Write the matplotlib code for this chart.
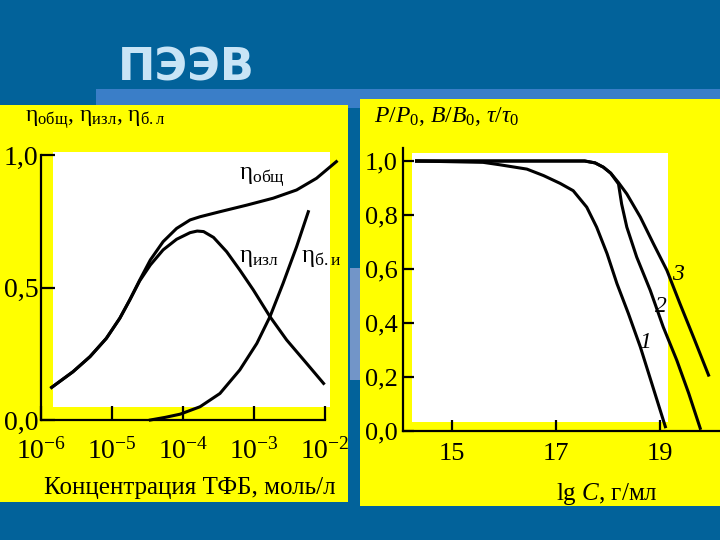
import matplotlib
matplotlib.use('Agg')
import numpy as np
import matplotlib.pyplot as plt
from matplotlib.patches import Rectangle

plt.rcParams['font.family'] = ['Liberation Serif', 'DejaVu Serif']
plt.rcParams['mathtext.fontset'] = 'custom'
plt.rcParams['mathtext.rm'] = 'Liberation Serif'
plt.rcParams['mathtext.it'] = 'Liberation Serif:italic'
plt.rcParams['mathtext.bf'] = 'Liberation Serif:bold'

# left chart: efficiencies vs TPB concentration (lg of mol/l)
lgc_total = [-5.85, -5.55, -5.31, -5.08, -4.89, -4.75, -4.61, -4.46, -4.28, -4.09,
             -3.90, -3.76, -3.48, -3.10, -2.73, -2.40, -2.12, -1.84]
eta_total = [0.123, 0.182, 0.239, 0.308, 0.384, 0.453, 0.528, 0.604, 0.673, 0.723,
             0.755, 0.767, 0.786, 0.811, 0.837, 0.868, 0.912, 0.975]
lgc_rad = [-5.85, -5.55, -5.31, -5.08, -4.89, -4.75, -4.61, -4.46, -4.28, -4.09,
           -3.90, -3.80, -3.71, -3.57, -3.385, -3.20, -3.01, -2.775, -2.54, -2.26, -2.02]
eta_rad = [0.123, 0.182, 0.239, 0.308, 0.384, 0.453, 0.525, 0.585, 0.642, 0.682,
           0.707, 0.713, 0.711, 0.689, 0.635, 0.566, 0.491, 0.390, 0.302, 0.214, 0.138]
lgc_nonrad = [-4.46, -4.25, -4.04, -3.76, -3.48, -3.20, -2.96, -2.775, -2.59, -2.40, -2.235]
eta_nonrad = [0.0, 0.01, 0.022, 0.05, 0.10, 0.189, 0.289, 0.39, 0.516, 0.654, 0.786]
left_xticks = [1e-6, 1e-5, 1e-4, 1e-3, 1e-2]
left_xlabels = ['$10^{-6}$', '$10^{-5}$', '$10^{-4}$', '$10^{-3}$', '$10^{-2}$']
left_yticks = [0.0, 0.5, 1.0]
left_ylabels = ['0,0', '0,5', '1,0']

# right chart: relative values vs lg C
lgc_1 = [14.32, 15.6, 15.92, 16.44, 16.76, 17.08, 17.33, 17.59, 17.78, 17.98,
         18.17, 18.39, 18.62, 18.84, 19.10]
val_1 = [1.0, 0.995, 0.986, 0.97, 0.946, 0.917, 0.89, 0.829, 0.755, 0.657,
         0.546, 0.435, 0.311, 0.176, 0.016]
lgc_2 = [14.32, 17.55, 17.75, 17.91, 18.05, 18.2, 18.26, 18.36, 18.55, 18.81,
         19.06, 19.32, 19.55, 19.77]
val_2 = [1.0, 1.0, 0.993, 0.977, 0.955, 0.915, 0.841, 0.755, 0.644, 0.521,
         0.385, 0.262, 0.139, 0.01]
lgc_3 = [14.32, 17.55, 17.75, 17.91, 18.05, 18.2, 18.36, 18.62, 18.87, 19.13,
         19.38, 19.64, 19.93]
val_3 = [1.0, 1.0, 0.993, 0.977, 0.955, 0.92, 0.878, 0.792, 0.694, 0.595,
         0.472, 0.348, 0.207]
right_xticks = [15, 17, 19]
right_yticks = [0.0, 0.2, 0.4, 0.6, 0.8, 1.0]
right_ylabels = ['0,0', '0,2', '0,4', '0,6', '0,8', '1,0']

W, H = 720, 540
dark_blue = '#02629a'
light_blue = '#3a7ec8'
yellow = '#ffff00'

fig = plt.figure(figsize=(7.2, 5.4), dpi=100, facecolor=dark_blue)


def box(x0, y0, x1, y1, color, z=-2):
    # pixel coordinates, y measured from the top
    fig.add_artist(Rectangle((x0 / W, 1 - y1 / H), (x1 - x0) / W, (y1 - y0) / H,
                             transform=fig.transFigure, color=color, lw=0, zorder=z))


def axes_at(x0, y0, x1, y1):
    return fig.add_axes([x0 / W, 1 - y1 / H, (x1 - x0) / W, (y1 - y0) / H], facecolor='none')


# background blocks
box(96, 89, 720, 100, light_blue, -3)
box(96, 100, 360, 108, light_blue, -3)
box(350, 268, 360, 380, '#7295c8', -3)
box(0, 105, 348, 502, yellow)
box(360, 99, 720, 506, yellow)
box(53, 152, 330, 407, 'white', -1)
box(412, 153, 668, 422, 'white', -1)

fig.text(186 / W, 1 - 68 / H, 'ПЭЭВ', family='DejaVu Sans', weight='bold',
         fontsize=32, color='#c8e4f6', ha='center', va='center')

lw = 2.2

# ---- left chart
ax1 = axes_at(41, 155, 325, 420)
ax1.set_xscale('log')
ax1.set_xlim(1e-6, 1e-2)
ax1.set_ylim(0, 1)
ax1.plot(10 ** np.array(lgc_total), eta_total, color='black', lw=lw, clip_on=False)
ax1.plot(10 ** np.array(lgc_rad), eta_rad, color='black', lw=lw, clip_on=False)
ax1.plot(10 ** np.array(lgc_nonrad), eta_nonrad, color='black', lw=lw, clip_on=False)
for s in ['top', 'right']:
    ax1.spines[s].set_visible(False)
for s in ['left', 'bottom']:
    ax1.spines[s].set_linewidth(1.6)
ax1.set_xticks(left_xticks)
ax1.set_xticklabels(left_xlabels)
ax1.minorticks_off()
ax1.set_yticks(left_yticks)
ax1.set_yticklabels(left_ylabels)
ax1.tick_params(axis='both', direction='in', length=10, width=1.6, labelsize=20)
ax1.tick_params(axis='x', pad=13)
ax1.tick_params(axis='y', pad=2)

fig.text(25 / W, 1 - 120 / H,
         r'$\mathrm{η}_{\mathrm{общ}}$, $\mathrm{η}_{\mathrm{изл}}$, $\mathrm{η}_{\mathrm{б.л}}$',
         fontsize=17, ha='left', va='center')
fig.text(190 / W, 1 - 488 / H, 'Концентрация ТФБ, моль/л', fontsize=18,
         ha='center', va='center')
fig.text(239 / W, 1 - 178 / H, r'$\mathrm{η}_{\mathrm{общ}}$', fontsize=18, ha='left', va='center')
fig.text(239 / W, 1 - 258 / H, r'$\mathrm{η}_{\mathrm{изл}}$', fontsize=18, ha='left', va='center')
fig.text(301 / W, 1 - 258 / H, r'$\mathrm{η}_{\mathrm{б.и}}$', fontsize=18, ha='left', va='center')

# ---- right chart
ax2 = axes_at(403, 147.5, 720, 431)
ax2.set_xlim(14.06, 20.15)
ax2.set_ylim(0, 1.05)
ax2.plot(lgc_1, val_1, color='black', lw=lw, clip_on=False)
ax2.plot(lgc_2, val_2, color='black', lw=lw, clip_on=False)
ax2.plot(lgc_3, val_3, color='black', lw=lw, clip_on=False)
for s in ['top', 'right']:
    ax2.spines[s].set_visible(False)
for s in ['left', 'bottom']:
    ax2.spines[s].set_linewidth(1.6)
ax2.set_xticks(right_xticks)
ax2.set_yticks(right_yticks)
ax2.set_yticklabels(right_ylabels)
ax2.tick_params(axis='both', direction='in', length=8, width=1.6, labelsize=19)
ax2.tick_params(axis='x', pad=9)
ax2.tick_params(axis='y', pad=4)

fig.text(374 / W, 1 - 116 / H, r'$P/P_{0}$, $B/B_{0}$, $\tau/\tau_{0}$', fontsize=17,
         ha='left', va='center')
fig.text(607 / W, 1 - 494 / H, r'lg $C$, г/мл', fontsize=18, ha='center', va='center')
fig.text(678 / W, 1 - 274 / H, '3', fontsize=17, style='italic', ha='center', va='center')
fig.text(661 / W, 1 - 307 / H, '2', fontsize=17, style='italic', ha='center', va='center')
fig.text(645 / W, 1 - 342 / H, '1', fontsize=17, style='italic', ha='center', va='center')

fig.savefig('out.png', dpi=100, facecolor=dark_blue)
